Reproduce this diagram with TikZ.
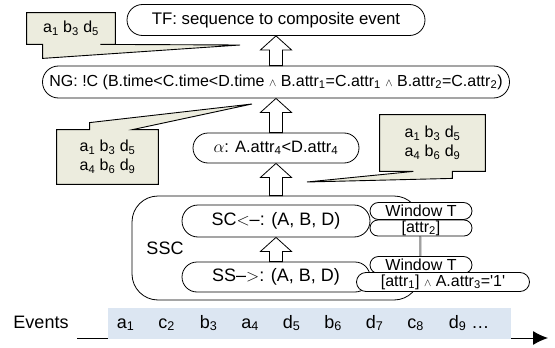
\documentclass[tikz,border=0pt]{standalone}
\usepackage{fontspec}
\setmainfont{Liberation Sans}
\usetikzlibrary{shapes.misc,arrows.meta,calc,backgrounds}

\definecolor{calloutfill}{RGB}{236,236,222}
\definecolor{bandfill}{RGB}{220,230,242}

\begin{document}
\begin{tikzpicture}[x=1pt,y=-1pt,line width=0.8pt,
    every node/.style={font=\fontsize{16}{19}\selectfont, inner sep=0pt},
    stage/.style={draw, fill=white, rounded rectangle, minimum height=31},
    cond/.style={draw, fill=white, rounded rectangle, minimum width=102, minimum height=17,
      font=\fontsize{16}{17}\selectfont},
    callout/.style={draw, fill=calloutfill, line width=0.9pt},
    bigtext/.style={font=\fontsize{18}{21}\selectfont},
    blockarrow/.style={draw, fill=white, to path={let \p1=(\tikztostart), \p2=(\tikztotarget) in
      ({\x1-6.5pt},\y1) -- ({\x1-6.5pt},{\y2-14pt}) -- ({\x1-15.5pt},{\y2-14pt}) -- (\x1,\y2)
      -- ({\x1+15.5pt},{\y2-14pt}) -- ({\x1+6.5pt},{\y2-14pt}) -- ({\x1+6.5pt},\y1) -- cycle}}]

       \useasboundingbox (0,0) rectangle (555,348);

       \pgfmathsetmacro{\evStart}{116.5}
       \pgfmathsetmacro{\evStep}{41.5}

       %% stages of the detection, bottom to top
       \node[draw, rounded corners=26, minimum width=288, minimum height=104] (ssc) at (276,248) {};
       \node[bigtext] at (165,248) {SSC};
       \node[stage, minimum width=298, font=\fontsize{16.8}{19}\selectfont] (tf) at (276,20) {TF: sequence to composite event};
       \node[stage, minimum width=467, minimum height=32] (ng) at (276,82)
         {NG: !C (B.time<C.time<D.time $\scriptstyle\wedge$ B.attr\textsubscript{1}=C.attr\textsubscript{1} $\scriptstyle\wedge$ B.attr\textsubscript{2}=C.attr\textsubscript{2})};
       \node[stage, minimum width=166, minimum height=30, font=\fontsize{16.5}{19}\selectfont] (alpha) at (276,148)
         {$\alpha$: A.attr\textsubscript{4}<D.attr\textsubscript{4}};
       \node[stage, bigtext, minimum width=188, minimum height=32] (sc) at (276,221)
         {SC$<$–: (A, B, D)};
       \node[stage, bigtext, minimum width=188, minimum height=30] (ss) at (276,277)
         {SS–$>$: (A, B, D)};

       %% windows and conditions of SC and SS
       \node[cond] (win2) at (421,211) {Window T};
       \node[cond, minimum height=16] (attr2) at (421,228) {[attr\textsubscript{2}]};
       \node[cond] (win1) at (421,265) {Window T};
       \node[cond, minimum width=173, minimum height=19] (attr1) at (443,282)
         {[attr\textsubscript{1}] $\scriptstyle\wedge$ A.attr\textsubscript{3}=\textquotesingle 1\textquotesingle};
       \draw[line width=0.5pt, gray] (attr2) -- (win1);

       \draw[blockarrow] (ss.north) to (sc.south);
       \draw[blockarrow] (ssc.north) to (alpha.south);
       \draw[blockarrow] (alpha.north) to (ng.south);
       \draw[blockarrow] (ng.north) to (tf.south);

       %% callouts with the matched events
       \coordinate (Tip1) at (240,45);
       \coordinate (Tip2) at (252,104);
       \coordinate (Tip3) at (307,182);
       \node[minimum width=88, minimum height=31] (cb1) at (71,28.5) {a\textsubscript{1} b\textsubscript{3} d\textsubscript{5}};
       \node[minimum width=101, minimum height=54, align=center] (cb2) at (107.5,157)
         {a\textsubscript{1} b\textsubscript{3} d\textsubscript{5}\\a\textsubscript{4} b\textsubscript{6} d\textsubscript{9}};
       \node[minimum width=105, minimum height=56, align=center] (cb3) at (432.5,143)
         {a\textsubscript{1} b\textsubscript{3} d\textsubscript{5}\\a\textsubscript{4} b\textsubscript{6} d\textsubscript{9}};
       \begin{scope}[on background layer]
         \draw[callout] (cb1.north west) -- (cb1.north east) -- (cb1.south east) -- ([xshift=-15pt]cb1.south east)
           -- (Tip1) -- ($(cb1.south west)+(16,14)$) -- ([xshift=16pt]cb1.south west) -- (cb1.south west) -- cycle;
         \draw[callout] (cb2.north west) -- ([xshift=33pt]cb2.north west) -- ($(cb2.north west)+(33,-7)$)
           -- (Tip2) -- ([xshift=76pt]cb2.north west) -- (cb2.north east) -- (cb2.south east) -- (cb2.south west) -- cycle;
         \draw[callout] (cb3.north west) -- (cb3.north east) -- (cb3.south east) -- ([xshift=-33pt]cb3.south east)
           -- ($(cb3.south east)+(-33,7)$) -- (Tip3) -- ([xshift=-72pt]cb3.south east) -- (cb3.south west) -- cycle;
       \end{scope}

       %% event stream
       \coordinate (AxStart) at (77,338);
       \coordinate (AxEnd) at (548,338);
       \draw[line width=1pt, -{Latex[length=15pt,width=14pt]}] (AxStart) -- (AxEnd);
       \node[fill=bandfill, minimum width=403, minimum height=31] (band) at (309.5,323.5) {};
       \node[bigtext, anchor=base] (events) at (41,328) {Events};
       \foreach \ev [count=\i] in {a\textsubscript{1}, c\textsubscript{2}, b\textsubscript{3}, a\textsubscript{4},
           d\textsubscript{5}, b\textsubscript{6}, d\textsubscript{7}, c\textsubscript{8}, d\textsubscript{9} \dots}
         \node[bigtext, anchor=base west] (ev\i) at ({\evStart+\evStep*(\i-1)},328) {\ev};
    \end{tikzpicture}
\end{document}
